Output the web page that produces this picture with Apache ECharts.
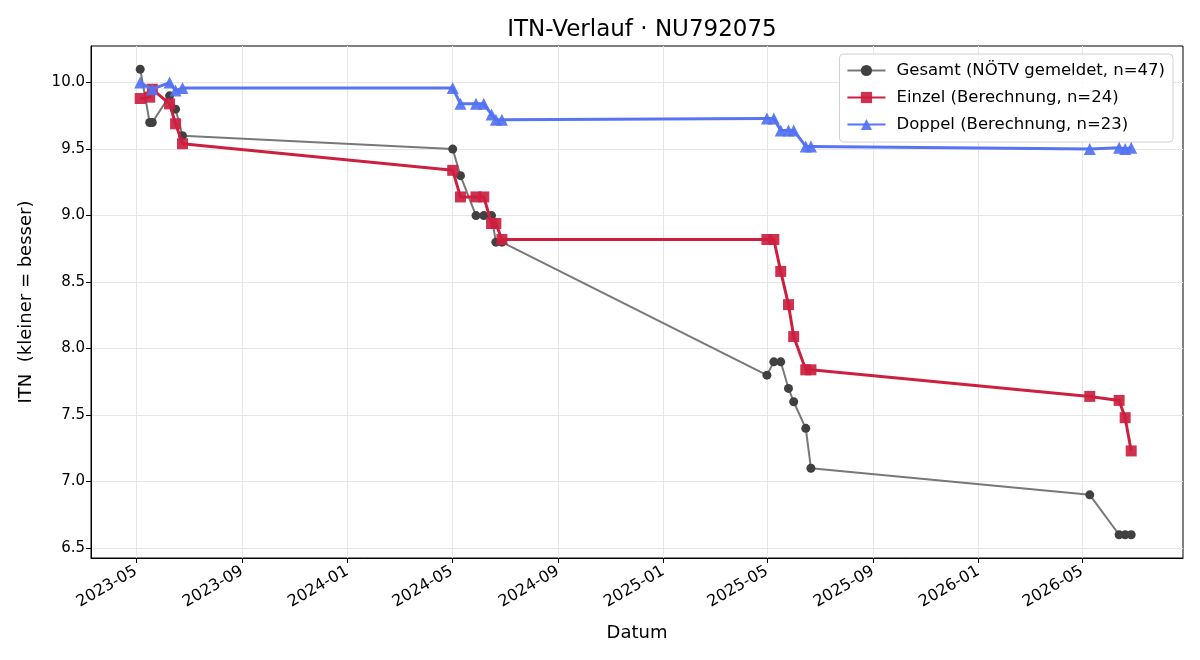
<!DOCTYPE html>
<html>
<head>
<meta charset="utf-8">
<script src="https://cdn.jsdelivr.net/npm/echarts@6/dist/echarts.min.js"></script>
<style>
  html, body { margin: 0; padding: 0; background: #fff; }
  #main { width: 1200px; height: 660px; }
</style>
</head>
<body>
<div id="main"></div>
<script>
// Gesamt (NÖTV gemeldet)
const gesamtDates = [
  '2023-05-06', '2023-05-17', '2023-05-20', '2023-06-09', '2023-06-16', '2023-06-24',
  '2024-05-02', '2024-05-11', '2024-05-29', '2024-06-07', '2024-06-16', '2024-06-21', '2024-06-28',
  '2025-05-01', '2025-05-09', '2025-05-17', '2025-05-26', '2025-06-01', '2025-06-15', '2025-06-21',
  '2026-05-10', '2026-06-13', '2026-06-20', '2026-06-27'
];
const gesamtValues = [
  10.1, 9.7, 9.7, 9.9, 9.8, 9.6,
  9.5, 9.3, 9.0, 9.0, 9.0, 8.8, 8.8,
  7.8, 7.9, 7.9, 7.7, 7.6, 7.4, 7.1,
  6.9, 6.6, 6.6, 6.6
];

// Einzel (Berechnung)
const einzelDates = [
  '2023-05-06', '2023-05-17', '2023-05-20', '2023-06-09', '2023-06-16', '2023-06-24',
  '2024-05-02', '2024-05-11', '2024-05-29', '2024-06-07', '2024-06-16', '2024-06-21', '2024-06-28',
  '2025-05-01', '2025-05-09', '2025-05-17', '2025-05-26', '2025-06-01', '2025-06-15', '2025-06-21',
  '2026-05-10', '2026-06-13', '2026-06-20', '2026-06-27'
];
const einzelValues = [
  9.88, 9.89, 9.95, 9.84, 9.69, 9.54,
  9.34, 9.14, 9.14, 9.14, 8.94, 8.94, 8.82,
  8.82, 8.82, 8.58, 8.33, 8.09, 7.84, 7.84,
  7.64, 7.61, 7.48, 7.23
];

// Doppel (Berechnung)
const doppelDates = [
  '2023-05-06', '2023-05-20', '2023-06-09', '2023-06-16', '2023-06-24',
  '2024-05-02', '2024-05-11', '2024-05-29', '2024-06-07', '2024-06-16', '2024-06-21', '2024-06-28',
  '2025-05-01', '2025-05-09', '2025-05-17', '2025-05-26', '2025-06-01', '2025-06-15', '2025-06-21',
  '2026-05-10', '2026-06-13', '2026-06-20', '2026-06-27'
];
const doppelValues = [
  10.0, 9.95, 10.0, 9.94, 9.96,
  9.96, 9.84, 9.84, 9.84, 9.76, 9.72, 9.72,
  9.73, 9.73, 9.64, 9.64, 9.64, 9.52, 9.52,
  9.50, 9.51, 9.50, 9.51
];

const xTickLabels = ['2023-05', '2023-09', '2024-01', '2024-05', '2024-09', '2025-01', '2025-05', '2025-09', '2026-01', '2026-05'];
const yTicks = [6.5, 7.0, 7.5, 8.0, 8.5, 9.0, 9.5, 10.0];

const toTime = (s) => {
  const p = s.split('-').map(Number);
  return Date.UTC(p[0], p[1] - 1, p[2] || 1);
};
const zip = (dates, vals) => dates.map((d, i) => [toTime(d), vals[i]]);
const xTicks = xTickLabels.map(toTime);
const tickText = {};
xTickLabels.forEach((l, i) => { tickText[xTicks[i]] = l; });

const font = 'DejaVu Sans, sans-serif';
const chart = echarts.init(document.getElementById('main'), null, { renderer: 'canvas' });

chart.setOption({
  animation: false,
  backgroundColor: '#fff',
  title: {
    text: 'ITN-Verlauf · NU792075',
    left: 637,
    top: 14,
    textAlign: 'center',
    textStyle: { fontFamily: font, fontSize: 23, fontWeight: 'normal', color: '#000' }
  },
  legend: {
    orient: 'vertical',
    right: 27,
    top: 54,
    padding: [8, 8, 9, 7],
    itemWidth: 38,
    itemHeight: 14,
    itemGap: 10,
    backgroundColor: 'rgba(255,255,255,0.85)',
    borderColor: '#d0d0d0',
    borderWidth: 1,
    borderRadius: 4,
    textStyle: { fontFamily: font, fontSize: 16.5, color: '#000', padding: [0, 0, 0, 6] },
    data: ['Gesamt (NÖTV gemeldet, n=47)', 'Einzel (Berechnung, n=24)', 'Doppel (Berechnung, n=23)']
  },
  grid: {
    left: 91, right: 17, top: 46, bottom: 102,
    show: true, borderColor: '#000', borderWidth: 1, backgroundColor: 'transparent'
  },
  xAxis: {
    type: 'value',
    min: toTime('2023-03-10'),
    max: toTime('2026-08-26'),
    name: 'Datum',
    nameLocation: 'middle',
    nameGap: 66,
    nameTextStyle: { fontFamily: font, fontSize: 18, color: '#000' },
    axisLine: { lineStyle: { color: '#000', width: 1 } },
    axisTick: { show: true, length: 5, lineStyle: { color: '#000' }, customValues: xTicks },
    axisLabel: {
      customValues: xTicks,
      rotate: 30,
      margin: 12,
      fontFamily: font, fontSize: 16, color: '#000',
      formatter: (v) => tickText[v] || ''
    },
    splitLine: { show: true, lineStyle: { color: '#e6e6e6', width: 1 } }
  },
  yAxis: {
    type: 'value',
    min: 6.425,
    max: 10.275,
    name: 'ITN  (kleiner = besser)',
    nameLocation: 'middle',
    nameGap: 56,
    nameTextStyle: { fontFamily: font, fontSize: 18, color: '#000' },
    axisLine: { show: true, lineStyle: { color: '#000', width: 1 } },
    axisTick: { show: true, length: 5, lineStyle: { color: '#000' }, customValues: yTicks },
    axisLabel: {
      customValues: yTicks,
      margin: 6,
      fontFamily: font, fontSize: 15, color: '#000',
      formatter: (v) => v.toFixed(1)
    },
    splitLine: { show: true, lineStyle: { color: '#e6e6e6', width: 1 } }
  },
  series: [
    {
      name: 'Gesamt (NÖTV gemeldet, n=47)',
      type: 'line',
      data: zip(gesamtDates, gesamtValues),
      symbol: 'circle',
      symbolSize: 9,
      lineStyle: { color: '#787878', width: 2 },
      itemStyle: { color: '#404040' },
      z: 2
    },
    {
      name: 'Einzel (Berechnung, n=24)',
      type: 'line',
      data: zip(einzelDates, einzelValues),
      symbol: 'rect',
      symbolSize: 11,
      lineStyle: { color: '#cc2040', width: 3 },
      itemStyle: { color: '#cc1f40', opacity: 0.92 },
      z: 3
    },
    {
      name: 'Doppel (Berechnung, n=23)',
      type: 'line',
      data: zip(doppelDates, doppelValues),
      symbol: 'triangle',
      symbolSize: 12,
      lineStyle: { color: '#5874f3', width: 3 },
      itemStyle: { color: '#5272f2', opacity: 0.92 },
      z: 4
    }
  ]
});
</script>
</body>
</html>
